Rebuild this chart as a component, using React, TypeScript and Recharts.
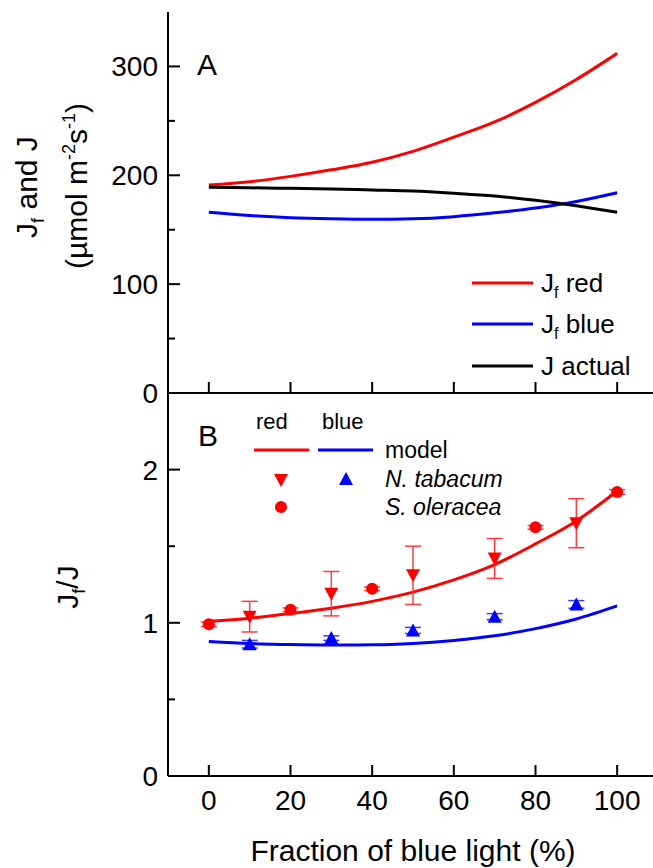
import React from 'react';
import { ComposedChart, Line, Scatter, XAxis, YAxis, ErrorBar } from 'recharts';

// ---------- data ----------
const blueFraction = [0, 10, 20, 30, 40, 50, 60, 70, 80, 90, 100];
const jfRed = [191, 194, 199, 205, 212, 222, 235, 249, 267, 288, 312];
const jfBlue = [166, 163, 161, 160, 159.5, 160, 162, 165.5, 170, 176, 184];
const jActual = [189, 188.5, 188, 187.5, 186.5, 185.5, 183.5, 181, 177, 172, 166];

const modelRedRatio = [1.01, 1.03, 1.06, 1.095, 1.14, 1.2, 1.28, 1.38, 1.515, 1.665, 1.86];
const modelBlueRatio = [0.878, 0.865, 0.858, 0.855, 0.856, 0.865, 0.885, 0.915, 0.962, 1.025, 1.11];

const tabacumX = [10, 30, 50, 70, 90];
const tabacumRed = [1.04, 1.19, 1.31, 1.42, 1.65];
const tabacumRedErr = [0.1, 0.145, 0.19, 0.13, 0.16];
const tabacumBlue = [0.86, 0.9, 0.95, 1.04, 1.12];
const tabacumBlueErr = [0.025, 0.015, 0.02, 0.02, 0.025];

const oleraceaX = [0, 20, 40, 80, 100];
const oleraceaRed = [0.99, 1.085, 1.222, 1.623, 1.854];
const oleraceaRedErr = [0.015, 0.012, 0.012, 0.012, 0.015];

const xTicks = [0, 20, 40, 60, 80, 100];
const yTicksA = [0, 50, 100, 150, 200, 250, 300, 350];
const yTicksB = [0, 0.5, 1, 1.5, 2, 2.5];

// ---------- derived tables ----------
const seriesA = blueFraction.map((x, i) => ({ x, red: jfRed[i], blue: jfBlue[i], actual: jActual[i] }));
const seriesB = blueFraction.map((x, i) => ({ x, red: modelRedRatio[i], blue: modelBlueRatio[i] }));
const tabRedPts = tabacumX.map((x, i) => ({ x, y: tabacumRed[i], e: tabacumRedErr[i] }));
const tabBluePts = tabacumX.map((x, i) => ({ x, y: tabacumBlue[i], e: tabacumBlueErr[i] }));
const oleRedPts = oleraceaX.map((x, i) => ({ x, y: oleraceaRed[i], e: oleraceaRedErr[i] }));

const FONT = '"Liberation Sans", Arial, Helvetica, sans-serif';
const RED = '#ff0000';
const BLUE = '#0000ff';

// ---------- tick renderers ----------
const bottomTickNoLabel = (p: any) => (
  <line x1={p.x} x2={p.x} y1={p.y} y2={p.y - 11} stroke="#000" strokeWidth={2} />
);
const bottomTickLabel = (p: any) => (
  <g>
    <line x1={p.x} x2={p.x} y1={p.y} y2={p.y - 11} stroke="#000" strokeWidth={2} />
    <text x={p.x} y={p.y + 34} textAnchor="middle" fontSize={28} fontFamily={FONT} fill="#000">
      {p.payload.value}
    </text>
  </g>
);
const topTick = (p: any) => (
  <line x1={p.x} x2={p.x} y1={p.y} y2={p.y + 11} stroke="#000" strokeWidth={2} />
);
const makeLeftTick = (majorStep: number, hideTop: number) => (p: any) => {
  const v = p.payload.value;
  if (v === hideTop) return <g />;
  const major = Math.abs(v / majorStep - Math.round(v / majorStep)) < 1e-6;
  return (
    <g>
      <line x1={p.x} x2={p.x + (major ? 12 : 7)} y1={p.y} y2={p.y} stroke="#000" strokeWidth={2} />
      {major ? (
        <text x={p.x - 10} y={p.y + 10} textAnchor="end" fontSize={28} fontFamily={FONT} fill="#000">
          {v}
        </text>
      ) : null}
    </g>
  );
};
const makeRightTick = (majorStep: number) => (p: any) => {
  const v = p.payload.value;
  const major = Math.abs(v / majorStep - Math.round(v / majorStep)) < 1e-6;
  return <line x1={p.x} x2={p.x - (major ? 12 : 7)} y1={p.y} y2={p.y} stroke="#000" strokeWidth={2} />;
};

// ---------- marker shapes ----------
const downTri = (color: string) => (p: any) => (
  <polygon points={`${p.cx - 7},${p.cy - 6} ${p.cx + 7},${p.cy - 6} ${p.cx},${p.cy + 7}`} fill={color} />
);
const upTri = (color: string) => (p: any) => (
  <polygon points={`${p.cx - 7},${p.cy + 6} ${p.cx + 7},${p.cy + 6} ${p.cx},${p.cy - 7}`} fill={color} />
);
const dot = (color: string) => (p: any) => <circle cx={p.cx} cy={p.cy} r={6} fill={color} />;

const axisLineStyle = { stroke: '#000', strokeWidth: 2 };

export default function App() {
  return (
    <div style={{ position: 'absolute', left: 0, top: 0, width: 653, height: 868, overflow: 'hidden', background: '#fff' }}>
      {/* Panel A */}
      <div style={{ position: 'absolute', left: 0, top: 0 }}>
        <ComposedChart width={700} height={420} data={seriesA} margin={{ top: 12, right: 42, bottom: 0, left: 0 }}>
          <XAxis dataKey="x" type="number" domain={[-10, 110]} ticks={xTicks} height={27}
            axisLine={axisLineStyle} tickLine={false} tickSize={0} tickMargin={0} tick={bottomTickNoLabel} />
          <XAxis xAxisId="top" orientation="top" dataKey="x" type="number" domain={[-10, 110]} ticks={xTicks} height={0}
            axisLine={axisLineStyle} tickLine={false} tickSize={0} tickMargin={0} tick={topTick} />
          <YAxis type="number" domain={[0, 350]} ticks={yTicksA} width={168} interval={0}
            axisLine={axisLineStyle} tickLine={false} tickSize={0} tickMargin={0} tick={makeLeftTick(100, 350)} />
          <YAxis yAxisId="right" orientation="right" type="number" domain={[0, 350]} ticks={yTicksA} width={0} interval={0}
            axisLine={axisLineStyle} tickLine={false} tickSize={0} tickMargin={0} tick={makeRightTick(100)} />
          <Line dataKey="red" type="monotone" stroke={RED} strokeWidth={3} dot={false} isAnimationActive={false} />
          <Line dataKey="blue" type="monotone" stroke={BLUE} strokeWidth={3} dot={false} isAnimationActive={false} />
          <Line dataKey="actual" type="monotone" stroke="#000" strokeWidth={3} dot={false} isAnimationActive={false} />

          <text x={197} y={75} fontSize={30} fontFamily={FONT} fill="#000">A</text>

          {/* y-axis title */}
          <text transform="translate(37,187) rotate(-90)" textAnchor="middle" fontSize={30} fontFamily={FONT} fill="#000">
            J<tspan fontSize={18} dy={7}>f</tspan><tspan dy={-7}> and J</tspan>
          </text>
          <text transform="translate(87,186) rotate(-90)" textAnchor="middle" fontSize={30} fontFamily={FONT} fill="#000">
            (µmol m<tspan fontSize={18} dy={-12}>-2</tspan><tspan dy={12}>s</tspan><tspan fontSize={18} dy={-12}>-1</tspan><tspan dy={12}>)</tspan>
          </text>

          {/* legend A */}
          <line x1={472} x2={533} y1={283} y2={283} stroke={RED} strokeWidth={3} />
          <text x={541} y={292} fontSize={26} fontFamily={FONT} fill="#000">
            J<tspan fontSize={16} dy={6}>f</tspan><tspan dy={-6}> red</tspan>
          </text>
          <line x1={472} x2={533} y1={324} y2={324} stroke={BLUE} strokeWidth={3} />
          <text x={541} y={333} fontSize={26} fontFamily={FONT} fill="#000">
            J<tspan fontSize={16} dy={6}>f</tspan><tspan dy={-6}> blue</tspan>
          </text>
          <line x1={472} x2={533} y1={366} y2={366} stroke="#000" strokeWidth={3} />
          <text x={541} y={375} fontSize={26} fontFamily={FONT} fill="#000">J actual</text>
        </ComposedChart>
      </div>

      {/* Panel B */}
      <div style={{ position: 'absolute', left: 0, top: 380 }}>
        <ComposedChart width={700} height={488} data={seriesB} margin={{ top: 13, right: 42, bottom: 0, left: 0 }}>
          <XAxis dataKey="x" type="number" domain={[-10, 110]} ticks={xTicks} height={92}
            axisLine={axisLineStyle} tickLine={false} tickSize={0} tickMargin={0} tick={bottomTickLabel} />
          <XAxis xAxisId="top" orientation="top" dataKey="x" type="number" domain={[-10, 110]} ticks={xTicks} height={0}
            axisLine={axisLineStyle} tickLine={false} tickSize={0} tickMargin={0} tick={topTick} />
          <YAxis type="number" domain={[0, 2.5]} ticks={yTicksB} width={168} interval={0}
            axisLine={axisLineStyle} tickLine={false} tickSize={0} tickMargin={0} tick={makeLeftTick(1, 2.5)} />
          <YAxis yAxisId="right" orientation="right" type="number" domain={[0, 2.5]} ticks={yTicksB} width={0} interval={0}
            axisLine={axisLineStyle} tickLine={false} tickSize={0} tickMargin={0} tick={makeRightTick(1)} />
          <Line dataKey="red" type="monotone" stroke={RED} strokeWidth={3} dot={false} isAnimationActive={false} />
          <Line dataKey="blue" type="monotone" stroke={BLUE} strokeWidth={3} dot={false} isAnimationActive={false} />

          <Scatter data={tabRedPts} dataKey="y" shape={downTri(RED)} isAnimationActive={false}>
            <ErrorBar dataKey="e" direction="y" width={8} stroke="#ff3c3c" strokeWidth={1.5} />
          </Scatter>
          <Scatter data={oleRedPts} dataKey="y" shape={dot(RED)} isAnimationActive={false}>
            <ErrorBar dataKey="e" direction="y" width={8} stroke="#ff3c3c" strokeWidth={1.5} />
          </Scatter>
          <Scatter data={tabBluePts} dataKey="y" shape={upTri(BLUE)} isAnimationActive={false}>
            <ErrorBar dataKey="e" direction="y" width={8} stroke="#3c3cff" strokeWidth={1.5} />
          </Scatter>

          <text x={198} y={66} fontSize={30} fontFamily={FONT} fill="#000">B</text>

          {/* y-axis title */}
          <text transform="translate(78,207) rotate(-90)" textAnchor="middle" fontSize={30} fontFamily={FONT} fill="#000">
            J<tspan fontSize={18} dy={7}>f</tspan><tspan dy={-7}>/J</tspan>
          </text>

          {/* x-axis title */}
          <text x={413} y={481} textAnchor="middle" fontSize={30} fontFamily={FONT} fill="#000">Fraction of blue light (%)</text>

          {/* legend B */}
          <text x={256} y={49} fontSize={22} fontFamily={FONT} fill="#000">red</text>
          <text x={322} y={49} fontSize={22} fontFamily={FONT} fill="#000">blue</text>
          <line x1={254} x2={309} y1={70} y2={70} stroke={RED} strokeWidth={3} />
          <line x1={318} x2={373} y1={70} y2={70} stroke={BLUE} strokeWidth={3} />
          <text x={385} y={78} fontSize={23} fontFamily={FONT} fill="#000">model</text>
          <polygon points="274,94 288,94 281,107" fill={RED} />
          <polygon points="339,105 353,105 346,92" fill={BLUE} />
          <text x={385} y={107} fontSize={23} fontStyle="italic" fontFamily={FONT} fill="#000">N. tabacum</text>
          <circle cx={281} cy={127} r={6} fill={RED} />
          <text x={385} y={135} fontSize={23} fontStyle="italic" fontFamily={FONT} fill="#000">S. oleracea</text>
        </ComposedChart>
      </div>
    </div>
  );
}
